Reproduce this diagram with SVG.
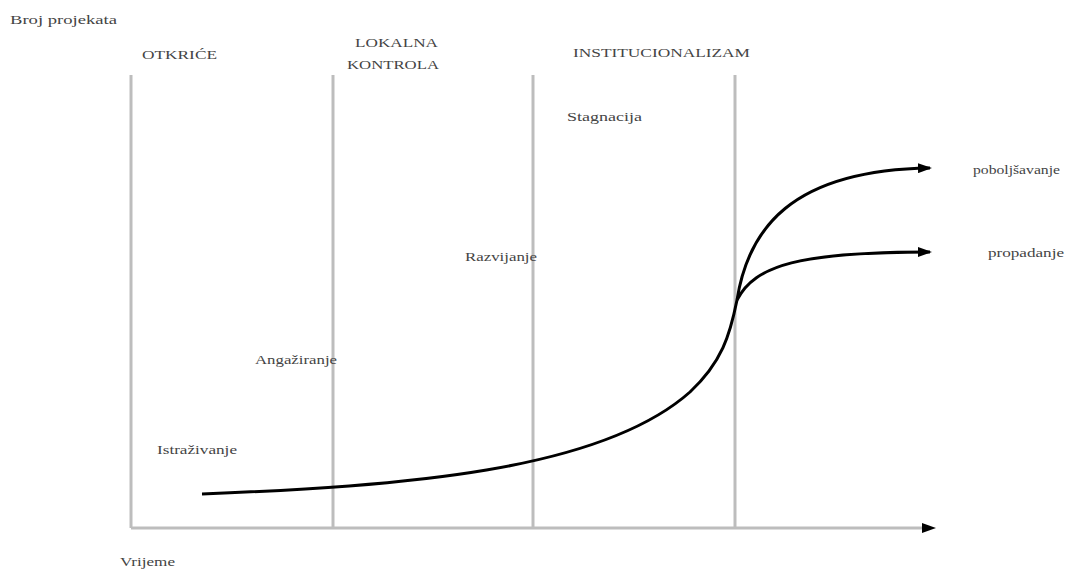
<svg xmlns="http://www.w3.org/2000/svg" width="1066" height="569" viewBox="0 0 1066 569">
<style>
text{font-family:"Liberation Serif","Times New Roman",serif;font-size:12px;fill:#444}
.grid{stroke:#bdbdbd;stroke-width:3;fill:none}
.curve{stroke:#000;stroke-width:3;fill:none}
</style>
<defs>
<marker id="ah" markerWidth="14" markerHeight="10" refX="12" refY="5" orient="auto" markerUnits="userSpaceOnUse">
<path d="M0,0 L14,5 L0,10 Z" fill="#000"/>
</marker>
</defs>
<rect width="1066" height="569" fill="#fff"/>
<g id="axes">
<line class="grid" x1="131" y1="75" x2="131" y2="528"/>
<line class="grid" x1="131" y1="528" x2="926" y2="528"/>
<path d="M922,523 L936,528 L922,533 Z" fill="#000"/>
</g>
<g id="dividers">
<line class="grid" x1="333" y1="75" x2="333" y2="528"/>
<line class="grid" x1="533" y1="75" x2="533" y2="528"/>
<line class="grid" x1="735" y1="75" x2="735" y2="528"/>
</g>
<g id="labels">
<text x="10" y="24" textLength="107" lengthAdjust="spacingAndGlyphs">Broj projekata</text>
<text x="142" y="59" textLength="75" lengthAdjust="spacingAndGlyphs">OTKRIĆE</text>
<text x="355" y="47" textLength="83" lengthAdjust="spacingAndGlyphs">LOKALNA</text>
<text x="347" y="69" textLength="92" lengthAdjust="spacingAndGlyphs">KONTROLA</text>
<text x="573" y="57" textLength="177" lengthAdjust="spacingAndGlyphs">INSTITUCIONALIZAM</text>
<text x="567" y="121" textLength="75" lengthAdjust="spacingAndGlyphs">Stagnacija</text>
<text x="465" y="261" textLength="72" lengthAdjust="spacingAndGlyphs">Razvijanje</text>
<text x="255" y="364" textLength="82" lengthAdjust="spacingAndGlyphs">Angažiranje</text>
<text x="157" y="454" textLength="80" lengthAdjust="spacingAndGlyphs">Istraživanje</text>
<text x="120" y="566" textLength="55" lengthAdjust="spacingAndGlyphs">Vrijeme</text>
<text x="973" y="174" textLength="87" lengthAdjust="spacingAndGlyphs">poboljšavanje</text>
<text x="988" y="257" textLength="76" lengthAdjust="spacingAndGlyphs">propadanje</text>
</g>
<g id="connectors">
<path class="curve" d="M202,494 C400,486 600,472 690,392 C722,362 730,335 737,300"/>
<path class="curve" d="M737,300 C748,230 790,170 930,168" marker-end="url(#ah)"/>
<path class="curve" d="M737,300 C755,265 800,252 930,252" marker-end="url(#ah)"/>
</g>
</svg>
